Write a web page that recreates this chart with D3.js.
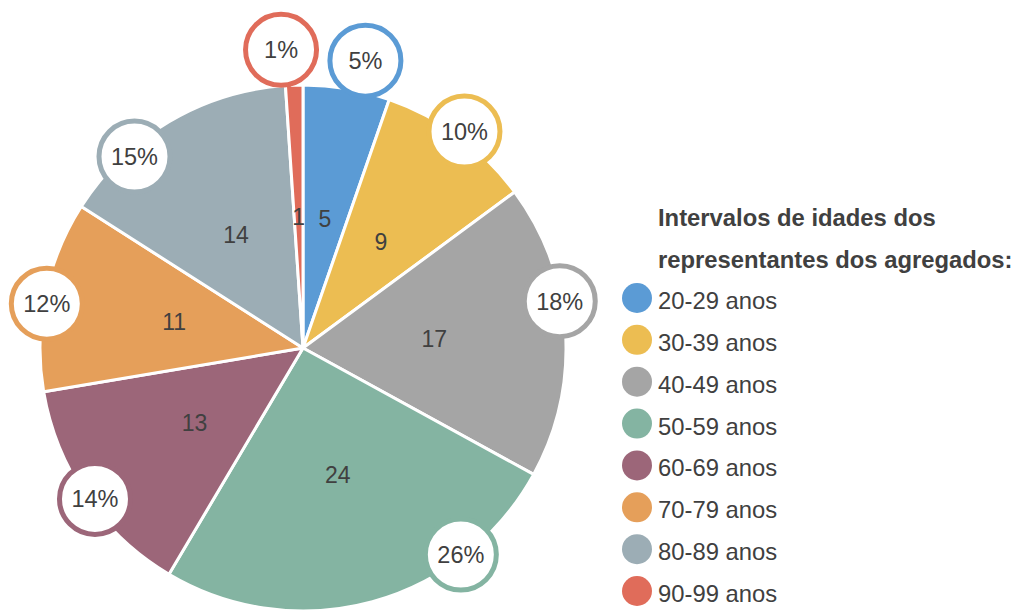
<!DOCTYPE html>
<html>
<head>
<meta charset="utf-8">
<script src="https://cdn.jsdelivr.net/npm/d3@7"></script>
<style>
  body { margin: 0; background: #fff; }
  svg text { font-family: "Liberation Sans", Arial, sans-serif; fill: #404040; }
</style>
</head>
<body>
<div id="chart"></div>
<script>
// DATA
////////////////////////////
var categories = ["20-29 anos", "30-39 anos", "40-49 anos", "50-59 anos",
                  "60-69 anos", "70-79 anos", "80-89 anos", "90-99 anos"];
var counts = [5, 9, 17, 24, 13, 11, 14, 1];
var percents = ["5%", "10%", "18%", "26%", "14%", "12%", "15%", "1%"];
var colors = ["#5b9bd5", "#ecbd52", "#a5a5a5", "#84b4a2",
              "#9c6679", "#e59f5a", "#9cadb5", "#e06c5a"];
var legendTitle = ["Intervalos de idades dos", "representantes dos agregados:"];

// where each % bubble sits along its slice (0 = start, 1 = end) and how far out
var labelAt  = [0.64, 0.51, 0.40, 0.26, 0.47, 0.46, 0.30, -0.1];
var labelOut = [31, 7, -2, -3, -6, -3, -8, 36];

// SETUP
////////////////////////////
var width = 1019,
    height = 612;
var cx = 303, cy = 348, R = 263;

var svg = d3.select("#chart").append("svg")
    .attr("width", width)
    .attr("height", height);

var g = svg.append("g").attr("transform", "translate(" + cx + "," + cy + ")");

var pie = d3.pie().sort(null).value(function(d) { return d; });
var arcs = pie(counts);

var arc = d3.arc().innerRadius(0).outerRadius(R);

// slices
g.selectAll("path.slice")
  .data(arcs)
  .enter().append("path")
    .attr("class", "slice")
    .attr("d", arc)
    .attr("fill", function(d, i) { return colors[i]; })
    .attr("stroke", "#fff")
    .attr("stroke-width", 3)
    .attr("stroke-linejoin", "round");

// counts inside slices
var inner = d3.arc().innerRadius(R * 0.5).outerRadius(R * 0.5);
g.selectAll("text.count")
  .data(arcs)
  .enter().append("text")
    .attr("class", "count")
    .attr("transform", function(d) { return "translate(" + inner.centroid(d) + ")"; })
    .attr("text-anchor", "middle")
    .attr("dy", "0.36em")
    .style("font-size", "23px")
    .text(function(d) { return d.data; });

// % bubbles (pin shaped: circle + small tail into the slice)
var bubbleR = 35.5;
function polar(a, r) { return [r * Math.sin(a), -r * Math.cos(a)]; }

var bubbles = arcs.map(function(d, i) {
  var a = d.startAngle + (d.endAngle - d.startAngle) * labelAt[i];
  var span = d.endAngle - d.startAngle;
  var ta = Math.max(d.startAngle + span * 0.3, Math.min(d.endAngle - span * 0.3, a));
  return { i: i, pos: polar(a, R + labelOut[i]), tip: polar(ta, R - 6) };
});

var b = g.selectAll("g.bubble")
  .data(bubbles)
  .enter().append("g")
    .attr("class", "bubble");

b.append("path")
  .attr("fill", function(d) { return colors[d.i]; })
  .attr("d", function(d) {
    var dx = d.tip[0] - d.pos[0], dy = d.tip[1] - d.pos[1];
    var len = Math.sqrt(dx * dx + dy * dy) || 1;
    var nx = -dy / len * 8, ny = dx / len * 8;
    return "M" + (d.pos[0] + nx) + "," + (d.pos[1] + ny) +
           "L" + d.tip[0] + "," + d.tip[1] +
           "L" + (d.pos[0] - nx) + "," + (d.pos[1] - ny) + "Z";
  });

b.append("circle")
  .attr("cx", function(d) { return d.pos[0]; })
  .attr("cy", function(d) { return d.pos[1]; })
  .attr("r", bubbleR)
  .attr("fill", "#fff")
  .attr("stroke", function(d) { return colors[d.i]; })
  .attr("stroke-width", 5);

b.append("text")
  .attr("x", function(d) { return d.pos[0]; })
  .attr("y", function(d) { return d.pos[1]; })
  .attr("text-anchor", "middle")
  .attr("dy", "0.36em")
  .style("font-size", "23.5px")
  .text(function(d) { return percents[d.i]; });

// LEGEND
////////////////////////////
var legend = svg.append("g").attr("transform", "translate(637,0)");

legend.selectAll("text.title")
  .data(legendTitle)
  .enter().append("text")
    .attr("class", "title")
    .attr("x", 21)
    .attr("y", function(d, i) { return 226 + i * 42; })
    .style("font-size", "23.8px")
    .style("font-weight", "bold")
    .text(function(d) { return d; });

var ly = d3.scalePoint().domain(categories).range([298, 591]);

var items = legend.selectAll("g.item")
  .data(categories)
  .enter().append("g")
    .attr("class", "item")
    .attr("transform", function(d) { return "translate(0," + ly(d) + ")"; });

items.append("circle")
  .attr("r", 15)
  .attr("fill", function(d, i) { return colors[i]; });

items.append("text")
  .attr("x", 21)
  .attr("y", 11)
  .style("font-size", "23.8px")
  .text(function(d) { return d; });
</script>
</body>
</html>
